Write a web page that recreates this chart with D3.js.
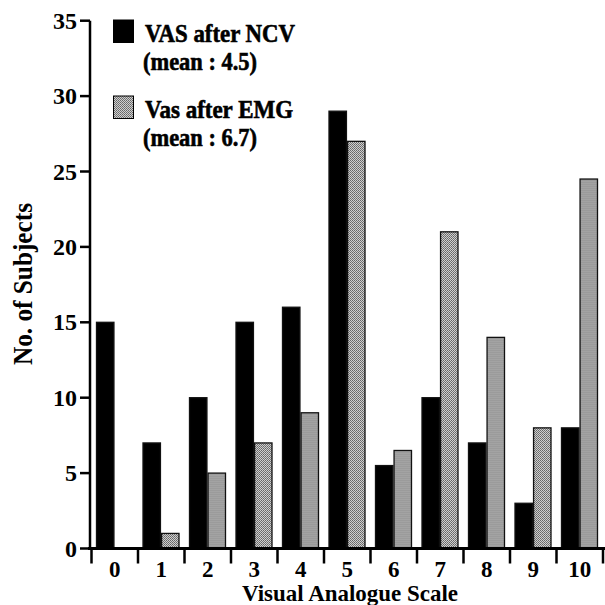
<!DOCTYPE html>
<html>
<head>
<meta charset="utf-8">
<script src="https://cdn.jsdelivr.net/npm/d3@7"></script>
<style>
  body { margin: 0; background: #fff; }
  svg { display: block; }
  text { font-family: "Liberation Serif", "Times New Roman", serif; font-weight: bold; fill: #000; }
  .heavy { stroke: #000; stroke-width: 0.6px; }
</style>
</head>
<body>
<svg id="chart" width="605" height="605"></svg>
<script>
// data
const categories = ['0', '1', '2', '3', '4', '5', '6', '7', '8', '9', '10']
const ncvValues = [15, 7, 10, 15, 16, 29, 5.5, 10, 7, 3, 8]
const emgValues = [0, 1, 5, 7, 9, 27, 6.5, 21, 14, 8, 24.5]
const yTicks = [0, 5, 10, 15, 20, 25, 30, 35]
const seriesKeys = ['ncv', 'emg']
const legendLines = [
  ['VAS after NCV', '(mean : 4.5)'],
  ['Vas after EMG', '(mean : 6.7)']
]

const svg = d3.select('#chart')

// grey stipple fill
const defs = svg.append('defs')
const pat = defs.append('pattern')
  .attr('id', 'stipple')
  .attr('width', 2).attr('height', 2)
  .attr('patternUnits', 'userSpaceOnUse')
pat.append('rect').attr('width', 2).attr('height', 2).attr('fill', '#cfcfcf')
pat.append('rect').attr('width', 1).attr('height', 1).attr('fill', '#666')
pat.append('rect').attr('x', 1).attr('y', 1).attr('width', 1).attr('height', 1).attr('fill', '#777')

const fills = { ncv: '#000', emg: 'url(#stipple)' }

// scales
const x = d3.scaleBand().domain(categories).range([91.5, 603]).paddingInner(0).paddingOuter(0)
const xSub = d3.scaleBand().domain(seriesKeys).range([5, 41]).paddingInner(0.06)
const y = d3.scaleLinear().domain([0, 35]).range([548.5, 20.7])

// bars
const rows = categories.map((c, i) => ({ cat: c, ncv: ncvValues[i], emg: emgValues[i] }))
const groups = svg.append('g').selectAll('g')
  .data(rows)
  .enter()
  .append('g')
  .attr('transform', d => 'translate(' + x(d.cat) + ',0)')

groups.selectAll('rect')
  .data(d => seriesKeys.map(k => ({ key: k, value: d[k] })).filter(e => e.value > 0))
  .enter()
  .append('rect')
  .attr('x', d => xSub(d.key))
  .attr('width', xSub.bandwidth())
  .attr('y', d => y(d.value))
  .attr('height', d => y(0) - y(d.value))
  .attr('fill', d => fills[d.key])
  .attr('stroke', '#111')
  .attr('stroke-width', 1.3)

// y axis
const yAxis = svg.append('g').attr('transform', 'translate(90,0)')
yAxis.append('line')
  .attr('x1', 0).attr('x2', 0)
  .attr('y1', y(0) + 1).attr('y2', y(35))
  .attr('stroke', '#000').attr('stroke-width', 2.5)
yAxis.selectAll('.ytick')
  .data(yTicks)
  .enter()
  .append('line')
  .attr('x1', -10).attr('x2', 0)
  .attr('y1', d => y(d)).attr('y2', d => y(d))
  .attr('stroke', '#000').attr('stroke-width', 2.5)
yAxis.selectAll('.ylab')
  .data(yTicks)
  .enter()
  .append('text')
  .attr('x', -13)
  .attr('y', d => y(d) + 8)
  .attr('text-anchor', 'end')
  .style('font-size', '24px')
  .text(d => d)

// x axis
const xAxis = svg.append('g').attr('transform', 'translate(0,' + y(0) + ')')
xAxis.append('line')
  .attr('x1', 88).attr('x2', 605)
  .attr('y1', 0).attr('y2', 0)
  .attr('stroke', '#000').attr('stroke-width', 3)
const bounds = categories.map(c => x(c)).concat([x.range()[1]])
xAxis.selectAll('.xtick')
  .data(bounds)
  .enter()
  .append('line')
  .attr('x1', d => d).attr('x2', d => d)
  .attr('y1', 0).attr('y2', 15)
  .attr('stroke', '#000').attr('stroke-width', 2.5)
xAxis.selectAll('.xlab')
  .data(categories)
  .enter()
  .append('text')
  .attr('x', d => x(d) + x.bandwidth() / 2)
  .attr('y', 28)
  .attr('text-anchor', 'middle')
  .style('font-size', '23px')
  .text(d => d)

// axis titles
svg.append('text')
  .attr('x', 350).attr('y', 601)
  .attr('text-anchor', 'middle')
  .attr('textLength', 216).attr('lengthAdjust', 'spacingAndGlyphs')
  .style('font-size', '24px')
  .text('Visual Analogue Scale')

svg.append('text')
  .attr('transform', 'translate(32,284) rotate(-90)')
  .attr('text-anchor', 'middle')
  .attr('textLength', 162).attr('lengthAdjust', 'spacingAndGlyphs')
  .style('font-size', '27px')
  .text('No. of Subjects')

// legend
const legend = svg.append('g')
const legendTop = [20, 96]
const legendWidths = [[150, 114], [148, 114]]
seriesKeys.forEach(function (k, i) {
  legend.append('rect')
    .attr('x', 113.5).attr('y', legendTop[i])
    .attr('width', 20).attr('height', 22.5)
    .attr('fill', fills[k])
    .attr('stroke', '#000').attr('stroke-width', 1)
  legendLines[i].forEach(function (line, j) {
    legend.append('text')
      .attr('class', 'heavy')
      .attr('x', j === 0 ? 145 : 143)
      .attr('y', legendTop[i] + 22 + j * 28)
      .attr('textLength', legendWidths[i][j]).attr('lengthAdjust', 'spacingAndGlyphs')
      .style('font-size', '24.5px')
      .text(line)
  })
})
</script>
</body>
</html>
